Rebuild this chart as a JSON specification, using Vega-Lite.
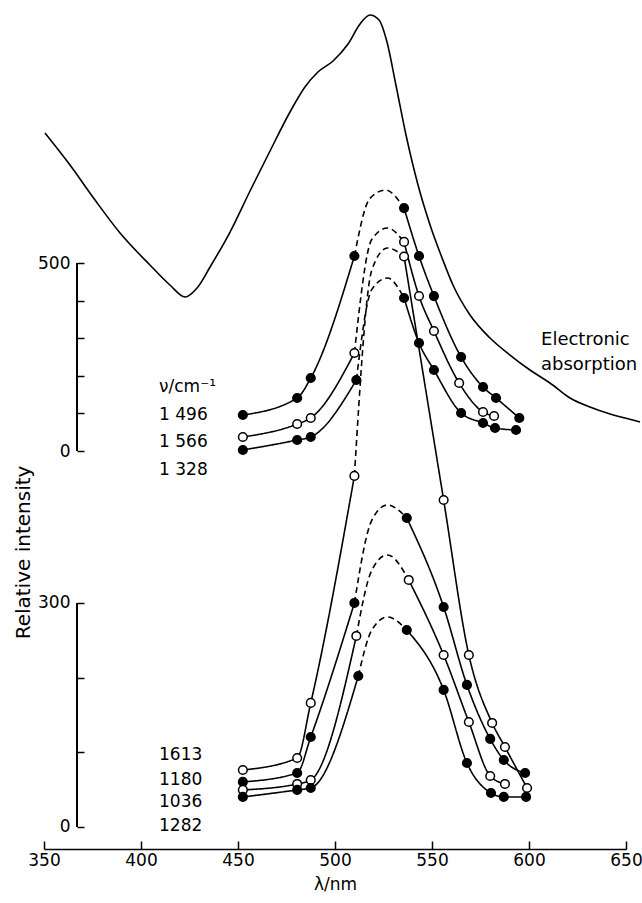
{
  "$schema": "https://vega.github.io/schema/vega-lite/v6.json",
  "width": 582,
  "height": 844,
  "autosize": {"type": "none"},
  "padding": {"left": 44, "top": 5, "right": 16, "bottom": 54},
  "background": "white",
  "config": {
    "view": {"stroke": null},
    "font": "DejaVu Sans",
    "axis": {"grid": false, "domainColor": "black", "tickColor": "black", "labelColor": "black", "titleColor": "black", "labelFontSize": 17, "titleFontSize": 17, "titleFontWeight": "normal", "domainWidth": 1.5, "tickWidth": 1.5, "labelFont": "DejaVu Sans", "titleFont": "DejaVu Sans", "labelFlush": false}
  },
  "datasets": {
    "absorption": [
      {"nm": 350.5, "v": 845.7}, {"nm": 363.4, "v": 760.6}, {"nm": 376.3, "v": 667.6}, {"nm": 389.2, "v": 579.8},
      {"nm": 404.6, "v": 494.7}, {"nm": 414.9, "v": 441.5}, {"nm": 422.7, "v": 409.6}, {"nm": 428.9, "v": 433.5},
      {"nm": 435.6, "v": 489.4}, {"nm": 445.9, "v": 582.4}, {"nm": 456.2, "v": 691.5}, {"nm": 466.5, "v": 797.9},
      {"nm": 476.8, "v": 901.6}, {"nm": 484.5, "v": 968.1}, {"nm": 491.2, "v": 1008}, {"nm": 499.0, "v": 1037.2},
      {"nm": 506.7, "v": 1082.4}, {"nm": 512.9, "v": 1135.6}, {"nm": 518.0, "v": 1159.6}, {"nm": 522.7, "v": 1146.3},
      {"nm": 526.8, "v": 1087.8}, {"nm": 531.4, "v": 973.4}, {"nm": 536.6, "v": 840.4}, {"nm": 542.8, "v": 707.4},
      {"nm": 549.0, "v": 601.1}, {"nm": 555.2, "v": 513.3}, {"nm": 560.8, "v": 441.5}, {"nm": 569.6, "v": 361.7},
      {"nm": 579.9, "v": 300.5}, {"nm": 590.2, "v": 255.3}, {"nm": 600.5, "v": 215.4}, {"nm": 610.8, "v": 180.9},
      {"nm": 621.1, "v": 141}, {"nm": 631.4, "v": 117}, {"nm": 641.8, "v": 98.4}, {"nm": 649.5, "v": 87.8},
      {"nm": 657.2, "v": 77.1}
    ],
    "spectra": [
      {"g": "U", "c": "1496", "s": "L", "nm": 452.5, "v": 95.7, "m": "f"},
      {"g": "U", "c": "1496", "s": "L", "nm": 480.5, "v": 141, "m": "f"},
      {"g": "U", "c": "1496", "s": "L", "nm": 487.5, "v": 194.1, "m": "f"},
      {"g": "U", "c": "1496", "s": "L", "nm": 510, "v": 518.6, "m": "f"},
      {"g": "U", "c": "1496", "s": "D", "nm": 510, "v": 518.6, "m": "f"},
      {"g": "U", "c": "1496", "s": "D", "nm": 518, "v": 672, "m": "f"},
      {"g": "U", "c": "1496", "s": "D", "nm": 526, "v": 694, "m": "f"},
      {"g": "U", "c": "1496", "s": "D", "nm": 535.6, "v": 646, "m": "f"},
      {"g": "U", "c": "1496", "s": "R", "nm": 535.6, "v": 646, "m": "f"},
      {"g": "U", "c": "1496", "s": "R", "nm": 543.3, "v": 518.6, "m": "f"},
      {"g": "U", "c": "1496", "s": "R", "nm": 551, "v": 412, "m": "f"},
      {"g": "U", "c": "1496", "s": "R", "nm": 565, "v": 250, "m": "f"},
      {"g": "U", "c": "1496", "s": "R", "nm": 576.3, "v": 170.2, "m": "f"},
      {"g": "U", "c": "1496", "s": "R", "nm": 583, "v": 141, "m": "f"},
      {"g": "U", "c": "1496", "s": "R", "nm": 595, "v": 87.8, "m": "f"},

      {"g": "U", "c": "1566", "s": "L", "nm": 452.5, "v": 37.2, "m": "o"},
      {"g": "U", "c": "1566", "s": "L", "nm": 480.5, "v": 71.8, "m": "o"},
      {"g": "U", "c": "1566", "s": "L", "nm": 487.5, "v": 87.8, "m": "o"},
      {"g": "U", "c": "1566", "s": "L", "nm": 510, "v": 260.6, "m": "o"},
      {"g": "U", "c": "1566", "s": "D", "nm": 510, "v": 260.6, "m": "o"},
      {"g": "U", "c": "1566", "s": "D", "nm": 519, "v": 563, "m": "o"},
      {"g": "U", "c": "1566", "s": "D", "nm": 527, "v": 593.1, "m": "o"},
      {"g": "U", "c": "1566", "s": "D", "nm": 535.6, "v": 556, "m": "o"},
      {"g": "U", "c": "1566", "s": "R", "nm": 535.6, "v": 556, "m": "o"},
      {"g": "U", "c": "1566", "s": "R", "nm": 543.3, "v": 412.2, "m": "o"},
      {"g": "U", "c": "1566", "s": "R", "nm": 551, "v": 319.1, "m": "o"},
      {"g": "U", "c": "1566", "s": "R", "nm": 564, "v": 180.9, "m": "o"},
      {"g": "U", "c": "1566", "s": "R", "nm": 576.3, "v": 103.7, "m": "o"},
      {"g": "U", "c": "1566", "s": "R", "nm": 582, "v": 93.1, "m": "o"},

      {"g": "U", "c": "1328", "s": "L", "nm": 452.5, "v": 2.7, "m": "f"},
      {"g": "U", "c": "1328", "s": "L", "nm": 480.5, "v": 29.3, "m": "f"},
      {"g": "U", "c": "1328", "s": "L", "nm": 487.5, "v": 37.2, "m": "f"},
      {"g": "U", "c": "1328", "s": "L", "nm": 511, "v": 188.8, "m": "f"},
      {"g": "U", "c": "1328", "s": "D", "nm": 511, "v": 188.8, "m": "f"},
      {"g": "U", "c": "1328", "s": "D", "nm": 519, "v": 430, "m": "f"},
      {"g": "U", "c": "1328", "s": "D", "nm": 527, "v": 460.1, "m": "f"},
      {"g": "U", "c": "1328", "s": "D", "nm": 535.6, "v": 407, "m": "f"},
      {"g": "U", "c": "1328", "s": "R", "nm": 535.6, "v": 407, "m": "f"},
      {"g": "U", "c": "1328", "s": "R", "nm": 543.3, "v": 287.2, "m": "f"},
      {"g": "U", "c": "1328", "s": "R", "nm": 551, "v": 215.4, "m": "f"},
      {"g": "U", "c": "1328", "s": "R", "nm": 565, "v": 101.1, "m": "f"},
      {"g": "U", "c": "1328", "s": "R", "nm": 576.3, "v": 74.5, "m": "f"},
      {"g": "U", "c": "1328", "s": "R", "nm": 582.5, "v": 61.2, "m": "f"},
      {"g": "U", "c": "1328", "s": "R", "nm": 593.3, "v": 55.9, "m": "f"},

      {"g": "L", "c": "1613", "s": "L", "nm": 452.5, "v": 76.3, "m": "o"},
      {"g": "L", "c": "1613", "s": "L", "nm": 480.5, "v": 92.4, "m": "o"},
      {"g": "L", "c": "1613", "s": "L", "nm": 487.5, "v": 166.1, "m": "o"},
      {"g": "L", "c": "1613", "s": "L", "nm": 510, "v": 470.1, "m": "o"},
      {"g": "L", "c": "1613", "s": "D", "nm": 510, "v": 470.1, "m": "o"},
      {"g": "L", "c": "1613", "s": "D", "nm": 519, "v": 746, "m": "o"},
      {"g": "L", "c": "1613", "s": "D", "nm": 527, "v": 775.4, "m": "o"},
      {"g": "L", "c": "1613", "s": "D", "nm": 535.6, "v": 764, "m": "o"},
      {"g": "L", "c": "1613", "s": "R", "nm": 535.6, "v": 764, "m": "o"},
      {"g": "L", "c": "1613", "s": "R", "nm": 556, "v": 437.9, "m": "o"},
      {"g": "L", "c": "1613", "s": "R", "nm": 569, "v": 230.3, "m": "o"},
      {"g": "L", "c": "1613", "s": "R", "nm": 581, "v": 139.3, "m": "o"},
      {"g": "L", "c": "1613", "s": "R", "nm": 587.6, "v": 107.1, "m": "o"},
      {"g": "L", "c": "1613", "s": "R", "nm": 599, "v": 52.2, "m": "o"},

      {"g": "L", "c": "1180", "s": "L", "nm": 452.5, "v": 60.3, "m": "f"},
      {"g": "L", "c": "1180", "s": "L", "nm": 480.5, "v": 72.3, "m": "f"},
      {"g": "L", "c": "1180", "s": "L", "nm": 487.5, "v": 120.5, "m": "f"},
      {"g": "L", "c": "1180", "s": "L", "nm": 510, "v": 300, "m": "f"},
      {"g": "L", "c": "1180", "s": "D", "nm": 510, "v": 300, "m": "f"},
      {"g": "L", "c": "1180", "s": "D", "nm": 519, "v": 411, "m": "f"},
      {"g": "L", "c": "1180", "s": "D", "nm": 527, "v": 431.2, "m": "f"},
      {"g": "L", "c": "1180", "s": "D", "nm": 537, "v": 413.8, "m": "f"},
      {"g": "L", "c": "1180", "s": "R", "nm": 537, "v": 413.8, "m": "f"},
      {"g": "L", "c": "1180", "s": "R", "nm": 556, "v": 294.6, "m": "f"},
      {"g": "L", "c": "1180", "s": "R", "nm": 568, "v": 190.2, "m": "f"},
      {"g": "L", "c": "1180", "s": "R", "nm": 580, "v": 117.9, "m": "f"},
      {"g": "L", "c": "1180", "s": "R", "nm": 587, "v": 89.7, "m": "f"},
      {"g": "L", "c": "1180", "s": "R", "nm": 598, "v": 72.3, "m": "f"},

      {"g": "L", "c": "1036", "s": "L", "nm": 452.5, "v": 49.6, "m": "o"},
      {"g": "L", "c": "1036", "s": "L", "nm": 480.5, "v": 57.6, "m": "o"},
      {"g": "L", "c": "1036", "s": "L", "nm": 487.5, "v": 62.9, "m": "o"},
      {"g": "L", "c": "1036", "s": "L", "nm": 511, "v": 255.8, "m": "o"},
      {"g": "L", "c": "1036", "s": "D", "nm": 511, "v": 255.8, "m": "o"},
      {"g": "L", "c": "1036", "s": "D", "nm": 519, "v": 344, "m": "o"},
      {"g": "L", "c": "1036", "s": "D", "nm": 527, "v": 364.3, "m": "o"},
      {"g": "L", "c": "1036", "s": "D", "nm": 538, "v": 330.8, "m": "o"},
      {"g": "L", "c": "1036", "s": "R", "nm": 538, "v": 330.8, "m": "o"},
      {"g": "L", "c": "1036", "s": "R", "nm": 556, "v": 230.3, "m": "o"},
      {"g": "L", "c": "1036", "s": "R", "nm": 569, "v": 140.6, "m": "o"},
      {"g": "L", "c": "1036", "s": "R", "nm": 580, "v": 68.3, "m": "o"},
      {"g": "L", "c": "1036", "s": "R", "nm": 587.6, "v": 57.6, "m": "o"},

      {"g": "L", "c": "1282", "s": "L", "nm": 452.5, "v": 40.2, "m": "f"},
      {"g": "L", "c": "1282", "s": "L", "nm": 480.5, "v": 49.6, "m": "f"},
      {"g": "L", "c": "1282", "s": "L", "nm": 487.5, "v": 52.2, "m": "f"},
      {"g": "L", "c": "1282", "s": "L", "nm": 512, "v": 202.2, "m": "f"},
      {"g": "L", "c": "1282", "s": "D", "nm": 512, "v": 202.2, "m": "f"},
      {"g": "L", "c": "1282", "s": "D", "nm": 519, "v": 263.8, "m": "f"},
      {"g": "L", "c": "1282", "s": "D", "nm": 527, "v": 281.2, "m": "f"},
      {"g": "L", "c": "1282", "s": "D", "nm": 537, "v": 263.8, "m": "f"},
      {"g": "L", "c": "1282", "s": "R", "nm": 537, "v": 263.8, "m": "f"},
      {"g": "L", "c": "1282", "s": "R", "nm": 556, "v": 183.5, "m": "f"},
      {"g": "L", "c": "1282", "s": "R", "nm": 568, "v": 85.7, "m": "f"},
      {"g": "L", "c": "1282", "s": "R", "nm": 580.4, "v": 45.5, "m": "f"},
      {"g": "L", "c": "1282", "s": "R", "nm": 587, "v": 40.2, "m": "f"},
      {"g": "L", "c": "1282", "s": "R", "nm": 598.5, "v": 40.2, "m": "f"}
    ],
    "labels": [
      {"g": "U", "text": "ν/cm⁻¹", "nm": 409.3, "v": 170, "fs": 17},
      {"g": "U", "text": "1 496", "nm": 409.3, "v": 96, "fs": 17},
      {"g": "U", "text": "1 566", "nm": 409.3, "v": 24, "fs": 17},
      {"g": "U", "text": "1 328", "nm": 409.3, "v": -50.5, "fs": 17},
      {"g": "U", "text": "Electronic", "nm": 606.2, "v": 295, "fs": 18},
      {"g": "U", "text": "absorption", "nm": 606.2, "v": 229, "fs": 18},
      {"g": "L", "text": "1613", "nm": 409.3, "v": 96.4, "fs": 17},
      {"g": "L", "text": "1180", "nm": 409.3, "v": 63, "fs": 17},
      {"g": "L", "text": "1036", "nm": 409.3, "v": 33.5, "fs": 17},
      {"g": "L", "text": "1282", "nm": 409.3, "v": 1.3, "fs": 17}
    ]
  },
  "layer": [
    {
      "encoding": {
        "x": {"field": "nm", "type": "quantitative", "title": "λ/nm",
              "scale": {"domain": [350, 650], "nice": false, "zero": false},
              "axis": {"values": [350, 400, 450, 500, 550, 600, 650], "tickSize": -8, "labelPadding": 11, "titleY": 35, "titleBaseline": "middle"}},
        "y": {"field": "v", "type": "quantitative", "title": null,
              "scale": {"domain": [-1058.5, 1186.2], "nice": false, "zero": false},
              "axis": {"orient": "left", "offset": -33, "values": [0, 100, 200, 300, 400, 500], "labelExpr": "datum.value == 0 || datum.value == 500 ? datum.label : ''", "domain": false, "tickSize": -7, "labelPadding": 14}}
      },
      "layer": [
        {"data": {"name": "absorption"}, "mark": {"type": "line", "color": "black", "strokeWidth": 1.6, "interpolate": "monotone"}},
        {"data": {"name": "spectra"}, "transform": [{"filter": "datum.g == 'U'"}],
         "mark": {"type": "line", "color": "black", "strokeWidth": 1.6, "interpolate": "monotone"},
         "encoding": {"detail": [{"field": "c"}, {"field": "s"}],
                      "strokeDash": {"field": "s", "type": "nominal", "scale": {"domain": ["L", "D", "R"], "range": [[1, 0], [6, 4], [1, 0]]}, "legend": null}}},
        {"data": {"name": "spectra"}, "transform": [{"filter": "datum.g == 'U' && datum.s != 'D'"}],
         "mark": {"type": "circle", "size": 75, "stroke": "black", "strokeWidth": 1.5, "opacity": 1},
         "encoding": {"fill": {"field": "m", "type": "nominal", "scale": {"domain": ["f", "o"], "range": ["black", "white"]}, "legend": null}}},
        {"data": {"name": "labels"}, "transform": [{"filter": "datum.g == 'U'"}],
         "mark": {"type": "text", "align": "left", "baseline": "middle", "font": "DejaVu Sans", "color": "black"},
         "encoding": {"text": {"field": "text"}, "size": {"field": "fs", "type": "quantitative", "scale": null}}},
        {"data": {"name": "labels"}, "mark": {"type": "rule", "color": "black", "strokeWidth": 1.5},
         "encoding": {"x": {"datum": 367}, "y": {"datum": 0}, "y2": {"datum": 500}}}
      ]
    },
    {
      "encoding": {
        "x": {"field": "nm", "type": "quantitative", "title": "λ/nm",
              "scale": {"domain": [350, 650], "nice": false, "zero": false},
              "axis": {"values": [350, 400, 450, 500, 550, 600, 650], "tickSize": -8, "labelPadding": 11, "titleY": 35, "titleBaseline": "middle"}},
        "y": {"field": "v", "type": "quantitative", "title": "Relative intensity",
              "scale": {"domain": [-29.5, 1100.8], "nice": false, "zero": false},
              "axis": {"orient": "left", "offset": -33, "values": [0, 100, 200, 300], "labelExpr": "datum.value == 0 || datum.value == 300 ? datum.label : ''", "domain": false, "tickSize": -7, "labelPadding": 14, "titleX": -54, "titleY": 547, "titleAngle": 270, "titleBaseline": "middle", "titleAlign": "center", "titleFontSize": 20}}
      },
      "layer": [
        {"data": {"name": "spectra"}, "transform": [{"filter": "datum.g == 'L'"}],
         "mark": {"type": "line", "color": "black", "strokeWidth": 1.6, "interpolate": "monotone"},
         "encoding": {"detail": [{"field": "c"}, {"field": "s"}],
                      "strokeDash": {"field": "s", "type": "nominal", "scale": {"domain": ["L", "D", "R"], "range": [[1, 0], [6, 4], [1, 0]]}, "legend": null}}},
        {"data": {"name": "spectra"}, "transform": [{"filter": "datum.g == 'L' && datum.s != 'D'"}],
         "mark": {"type": "circle", "size": 75, "stroke": "black", "strokeWidth": 1.5, "opacity": 1},
         "encoding": {"fill": {"field": "m", "type": "nominal", "scale": {"domain": ["f", "o"], "range": ["black", "white"]}, "legend": null}}},
        {"data": {"name": "labels"}, "transform": [{"filter": "datum.g == 'L'"}],
         "mark": {"type": "text", "align": "left", "baseline": "middle", "font": "DejaVu Sans", "color": "black"},
         "encoding": {"text": {"field": "text"}, "size": {"field": "fs", "type": "quantitative", "scale": null}}},
        {"data": {"name": "labels"}, "mark": {"type": "rule", "color": "black", "strokeWidth": 1.5},
         "encoding": {"x": {"datum": 367}, "y": {"datum": 0}, "y2": {"datum": 300}}}
      ]
    }
  ],
  "resolve": {"scale": {"y": "independent", "fill": "independent", "strokeDash": "independent", "size": "independent"}, "axis": {"y": "independent"}}
}
